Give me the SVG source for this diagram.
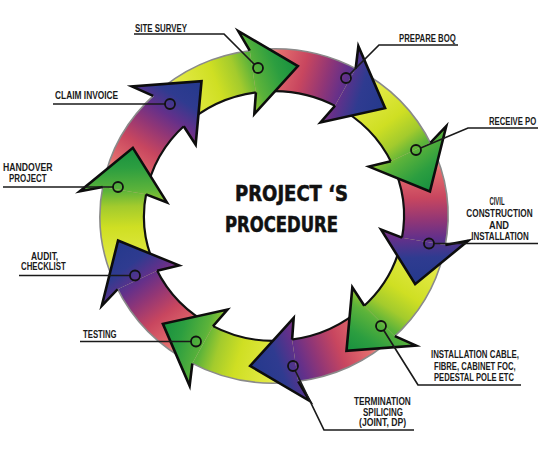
<svg xmlns="http://www.w3.org/2000/svg" width="542" height="457" viewBox="0 0 542 457">
<style>
.lbl{font-family:'Liberation Sans',Arial,sans-serif;font-weight:bold;font-size:10px;fill:#1a1a1a}
.mid{text-anchor:middle}
.title{font-family:'DejaVu Sans','Liberation Sans',sans-serif;font-weight:bold;font-size:21px;fill:#111;stroke:#111;stroke-width:0.6}
.lead{fill:none;stroke:#1a1a1a;stroke-width:1.7}
.mark{fill:none;stroke:#111;stroke-width:1.8}
.hedge{fill:none;stroke:#0d0d0d;stroke-width:2.6;stroke-linejoin:miter}
.bin{fill:none;stroke:#111;stroke-width:2.2}
.bout{fill:none;stroke:#8a8a8a;stroke-width:1.6}
</style>
<defs>
<linearGradient id="gG" gradientUnits="userSpaceOnUse" x1="-89.3" y1="-123" x2="45.4" y2="-151.3">
<stop offset="0" stop-color="#eef290"/>
<stop offset="0.15" stop-color="#e2e944"/>
<stop offset="0.4" stop-color="#cfdf23"/>
<stop offset="0.56" stop-color="#a3cb2d"/>
<stop offset="0.68" stop-color="#5cb33a"/>
<stop offset="0.85" stop-color="#2c9e40"/>
<stop offset="1" stop-color="#17903f"/>
</linearGradient>
<linearGradient id="gB" gradientUnits="userSpaceOnUse" x1="-89.3" y1="-123" x2="45.4" y2="-151.3">
<stop offset="0" stop-color="#f6b6ae"/>
<stop offset="0.15" stop-color="#e36c6d"/>
<stop offset="0.35" stop-color="#c8465f"/>
<stop offset="0.52" stop-color="#913676"/>
<stop offset="0.65" stop-color="#64308a"/>
<stop offset="0.8" stop-color="#2f3b90"/>
<stop offset="1" stop-color="#24398c"/>
</linearGradient>
<path id="body" d="M-102.28,-140.77 A174,174 0 0 1 3.04,-173.97 L2.27,-129.98 A130,130 0 0 0 -76.41,-105.17Z"/>
<path id="body-in" d="M-76.41,-105.17 A130,130 0 0 1 2.27,-129.98"/>
<path id="body-out" d="M-102.28,-140.77 A174,174 0 0 1 3.04,-173.97"/>
<path id="head" d="M0,-174 L-8.55,-195.81 L45.4,-151.34 L-4.71,-107.9 L0,-130Z"/>
<path id="head-edge" d="M0,-174 L-8.55,-195.81 L45.4,-151.34 L-4.71,-107.9 L0,-130"/>
</defs>
<rect width="542" height="457" fill="#fff"/>

<g id="connectors" transform="translate(274 216) scale(1 0.96)">
<g transform="rotate(-8)"><use href="#body" fill="url(#gG)"/><use href="#body-out" class="bout"/><use href="#body-in" class="bin"/></g>
<g transform="rotate(28)"><use href="#body" fill="url(#gB)"/><use href="#body-out" class="bout"/><use href="#body-in" class="bin"/></g>
<g transform="rotate(64)"><use href="#body" fill="url(#gG)"/><use href="#body-out" class="bout"/><use href="#body-in" class="bin"/></g>
<g transform="rotate(100)"><use href="#body" fill="url(#gB)"/><use href="#body-out" class="bout"/><use href="#body-in" class="bin"/></g>
<g transform="rotate(136)"><use href="#body" fill="url(#gG)"/><use href="#body-out" class="bout"/><use href="#body-in" class="bin"/></g>
<g transform="rotate(172)"><use href="#body" fill="url(#gB)"/><use href="#body-out" class="bout"/><use href="#body-in" class="bin"/></g>
<g transform="rotate(208)"><use href="#body" fill="url(#gG)"/><use href="#body-out" class="bout"/><use href="#body-in" class="bin"/></g>
<g transform="rotate(244)"><use href="#body" fill="url(#gB)"/><use href="#body-out" class="bout"/><use href="#body-in" class="bin"/></g>
<g transform="rotate(280)"><use href="#body" fill="url(#gG)"/><use href="#body-out" class="bout"/><use href="#body-in" class="bin"/></g>
<g transform="rotate(316)"><use href="#body" fill="url(#gB)"/><use href="#body-out" class="bout"/><use href="#body-in" class="bin"/></g>
</g>

<g id="title">
<text class="title" x="235" y="201" textLength="113" lengthAdjust="spacingAndGlyphs">PROJECT ‘S</text>
<text class="title" x="225" y="232" textLength="113" lengthAdjust="spacingAndGlyphs">PROCEDURE</text>
</g>

<g id="step-site-survey">
<g transform="translate(274 216) scale(1 0.96) rotate(-8)"><use href="#head" fill="url(#gG)"/><use href="#head-edge" class="hedge"/></g>
<path class="lead" d="M134,34 H224 L254.5,64.5"/>
<circle class="mark" cx="258" cy="68" r="5"/>
<text class="lbl" transform="translate(135 32) scale(0.8 1)" textLength="65" lengthAdjust="spacingAndGlyphs">SITE SURVEY</text>
</g>

<g id="step-prepare-boq">
<g transform="translate(274 216) scale(1 0.96) rotate(28)"><use href="#head" fill="url(#gB)"/><use href="#head-edge" class="hedge"/></g>
<path class="lead" d="M458,45 H379 L349.5,74.5"/>
<circle class="mark" cx="346" cy="78" r="5"/>
<text class="lbl" transform="translate(399 41.5) scale(0.8 1)" textLength="71" lengthAdjust="spacingAndGlyphs">PREPARE BOQ</text>
</g>

<g id="step-receive-po">
<g transform="translate(274 216) scale(1 0.96) rotate(64)"><use href="#head" fill="url(#gG)"/><use href="#head-edge" class="hedge"/></g>
<path class="lead" d="M538,128 H468 L420.6,148"/>
<circle class="mark" cx="416" cy="150" r="5"/>
<text class="lbl" transform="translate(489 125) scale(0.8 1)" textLength="59" lengthAdjust="spacingAndGlyphs">RECEIVE PO</text>
</g>

<g id="step-civil">
<g transform="translate(274 216) scale(1 0.96) rotate(100)"><use href="#head" fill="url(#gB)"/><use href="#head-edge" class="hedge"/></g>
<path class="lead" d="M538,243.5 H434"/>
<circle class="mark" cx="429" cy="243.5" r="5"/>
<text class="lbl mid" transform="translate(497 205) scale(0.8 1)" textLength="19" lengthAdjust="spacingAndGlyphs">CIVIL</text>
<text class="lbl mid" transform="translate(499.5 217) scale(0.8 1)" textLength="83" lengthAdjust="spacingAndGlyphs">CONSTRUCTION</text>
<text class="lbl mid" transform="translate(499 228.5) scale(0.8 1)" textLength="25" lengthAdjust="spacingAndGlyphs">AND</text>
<text class="lbl mid" transform="translate(500 240) scale(0.8 1)" textLength="72" lengthAdjust="spacingAndGlyphs">INSTALLATION</text>
</g>

<g id="step-installation-cable">
<g transform="translate(274 216) scale(1 0.96) rotate(136)"><use href="#head" fill="url(#gG)"/><use href="#head-edge" class="hedge"/></g>
<path class="lead" d="M521,385 H418 L383.7,330.2"/>
<circle class="mark" cx="381" cy="326" r="5"/>
<text class="lbl" transform="translate(431 358) scale(0.8 1)" textLength="110" lengthAdjust="spacingAndGlyphs">INSTALLATION CABLE,</text>
<text class="lbl" transform="translate(434 369.5) scale(0.8 1)" textLength="102" lengthAdjust="spacingAndGlyphs">FIBRE, CABINET FOC,</text>
<text class="lbl" transform="translate(434 381) scale(0.8 1)" textLength="100" lengthAdjust="spacingAndGlyphs">PEDESTAL POLE ETC</text>
</g>

<g id="step-termination">
<g transform="translate(274 216) scale(1 0.96) rotate(172)"><use href="#head" fill="url(#gB)"/><use href="#head-edge" class="hedge"/></g>
<path class="lead" d="M414,430 H324 L295.2,370.5"/>
<circle class="mark" cx="293" cy="366" r="5"/>
<text class="lbl" transform="translate(354 405) scale(0.8 1)" textLength="71" lengthAdjust="spacingAndGlyphs">TERMINATION</text>
<text class="lbl" transform="translate(363 415.5) scale(0.8 1)" textLength="50" lengthAdjust="spacingAndGlyphs">SPILICING</text>
<text class="lbl" transform="translate(359 425.5) scale(0.8 1)" textLength="59" lengthAdjust="spacingAndGlyphs">(JOINT, DP)</text>
</g>

<g id="step-testing">
<g transform="translate(274 216) scale(1 0.96) rotate(208)"><use href="#head" fill="url(#gG)"/><use href="#head-edge" class="hedge"/></g>
<path class="lead" d="M80,341.5 H191"/>
<circle class="mark" cx="196" cy="341.5" r="5"/>
<text class="lbl" transform="translate(83 338) scale(0.8 1)" textLength="42" lengthAdjust="spacingAndGlyphs">TESTING</text>
</g>

<g id="step-audit">
<g transform="translate(274 216) scale(1 0.96) rotate(244)"><use href="#head" fill="url(#gB)"/><use href="#head-edge" class="hedge"/></g>
<path class="lead" d="M19,275.5 H130"/>
<circle class="mark" cx="135" cy="275.5" r="5"/>
<text class="lbl" transform="translate(31 259.5) scale(0.8 1)" textLength="34" lengthAdjust="spacingAndGlyphs">AUDIT,</text>
<text class="lbl" transform="translate(21 269.5) scale(0.8 1)" textLength="56" lengthAdjust="spacingAndGlyphs">CHECKLIST</text>
</g>

<g id="step-handover">
<g transform="translate(274 216) scale(1 0.96) rotate(280)"><use href="#head" fill="url(#gG)"/><use href="#head-edge" class="hedge"/></g>
<path class="lead" d="M3,187 H113"/>
<circle class="mark" cx="118" cy="187" r="5"/>
<text class="lbl" transform="translate(3 170.5) scale(0.8 1)" textLength="62" lengthAdjust="spacingAndGlyphs">HANDOVER</text>
<text class="lbl" transform="translate(9 182) scale(0.8 1)" textLength="47" lengthAdjust="spacingAndGlyphs">PROJECT</text>
</g>

<g id="step-claim-invoice">
<g transform="translate(274 216) scale(1 0.96) rotate(316)"><use href="#head" fill="url(#gB)"/><use href="#head-edge" class="hedge"/></g>
<path class="lead" d="M53,104 H165"/>
<circle class="mark" cx="170" cy="104" r="5"/>
<text class="lbl" transform="translate(55 99) scale(0.8 1)" textLength="79" lengthAdjust="spacingAndGlyphs">CLAIM INVOICE</text>
</g>
</svg>
